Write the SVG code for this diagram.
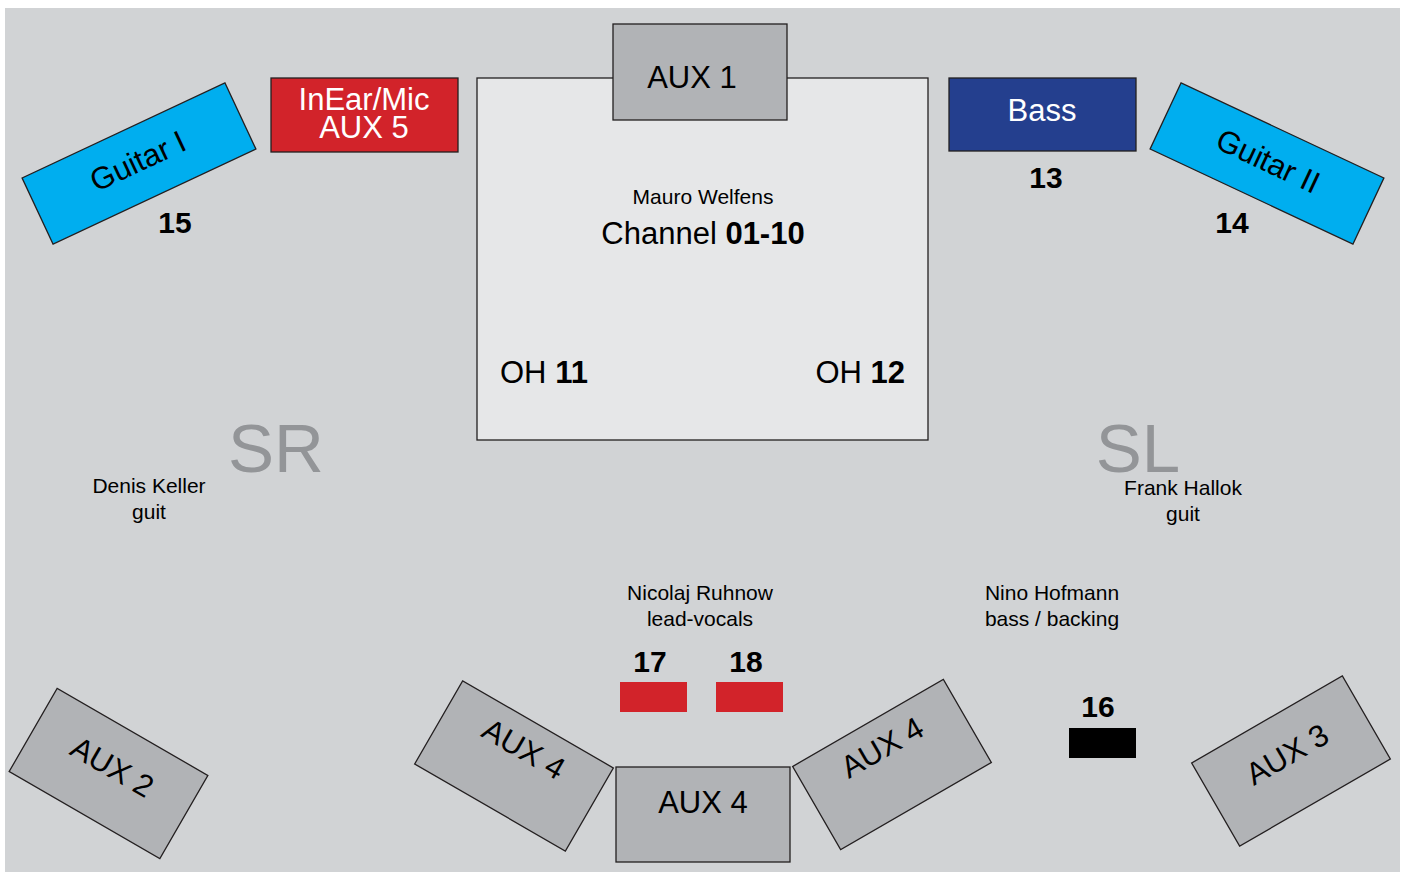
<svg xmlns="http://www.w3.org/2000/svg" width="1405" height="872" viewBox="0 0 1405 872">
<style>
text{font-family:"Liberation Sans",Arial,sans-serif;}
.box{stroke:#231f20;stroke-width:1.3;}
.gray{fill:#b1b3b6;}
.blue{fill:#00aeef;}
.red{fill:#d2232a;}
.lbl{font-size:31px;fill:#000;text-anchor:middle;}
.wlbl{font-size:31px;fill:#fff;text-anchor:middle;}
.num{font-size:30px;font-weight:bold;fill:#000;text-anchor:middle;}
.name{font-size:21px;fill:#000;text-anchor:middle;}
.side{font-size:69px;fill:#939598;text-anchor:middle;}
</style>
<rect x="0" y="0" width="1405" height="872" fill="#fff"/>
<rect x="5" y="8" width="1395" height="864" fill="#d1d3d5"/>

<g id="drums">
<rect class="box" x="477" y="78" width="451" height="362" fill="#e6e7e8"/>
<text class="name" x="703" y="204">Mauro Welfens</text>
<text class="lbl" x="703" y="244">Channel <tspan font-weight="bold">01-10</tspan></text>
<text x="500" y="383" font-size="31">OH <tspan font-weight="bold">11</tspan></text>
<text x="905" y="383" font-size="31" text-anchor="end">OH <tspan font-weight="bold">12</tspan></text>
</g>

<g id="aux1">
<rect class="box gray" x="613" y="24" width="174" height="96"/>
<text class="lbl" x="692" y="88">AUX 1</text>
</g>

<g id="inear">
<rect class="box red" x="271" y="78" width="187" height="74"/>
<text class="wlbl" x="364" y="110">InEar/Mic</text>
<text class="wlbl" x="364" y="138">AUX 5</text>
</g>

<g id="bass">
<rect class="box" x="949" y="78" width="187" height="73" fill="#243f8e"/>
<text class="wlbl" x="1042" y="121">Bass</text>
<text class="num" x="1046" y="188">13</text>
</g>

<g id="guitar1">
<g transform="translate(139,163.5) rotate(-25.1)">
<rect class="box blue" x="-112" y="-36.5" width="224" height="73"/>
<text class="lbl" x="0" y="8" font-size="30">Guitar I</text>
</g>
<text class="num" x="175" y="233">15</text>
</g>

<g id="guitar2">
<g transform="translate(1267,163.5) rotate(25.1)">
<rect class="box blue" x="-112" y="-36.5" width="224" height="73"/>
<text class="lbl" x="0" y="8" font-size="30">Guitar II</text>
</g>
<text class="num" x="1232" y="233">14</text>
</g>

<g id="sr">
<text class="side" x="276" y="472">SR</text>
<text class="name" x="149" y="493">Denis Keller</text>
<text class="name" x="149" y="519">guit</text>
</g>

<g id="sl">
<text class="side" x="1138" y="472">SL</text>
<text class="name" x="1183" y="495">Frank Hallok</text>
<text class="name" x="1183" y="521">guit</text>
</g>

<g id="vocals">
<text class="name" x="700" y="600">Nicolaj Ruhnow</text>
<text class="name" x="700" y="626">lead-vocals</text>
<text class="num" x="650" y="672">17</text>
<text class="num" x="746" y="672">18</text>
<rect class="red" x="620" y="682" width="67" height="30"/>
<rect class="red" x="716" y="682" width="67" height="30"/>
</g>

<g id="bassplayer">
<text class="name" x="1052" y="600">Nino Hofmann</text>
<text class="name" x="1052" y="626">bass / backing</text>
<text class="num" x="1098" y="717">16</text>
<rect x="1069" y="728" width="67" height="30" fill="#000"/>
</g>

<g id="aux2" transform="translate(108.5,773.5) rotate(30)">
<rect class="box gray" x="-87" y="-48" width="174" height="96"/>
<text class="lbl" x="0" y="3">AUX 2</text>
</g>

<g id="aux4left" transform="translate(514,766) rotate(30)">
<rect class="box gray" x="-87" y="-48" width="174" height="96"/>
<text class="lbl" x="0" y="-9">AUX 4</text>
</g>

<g id="aux4mid">
<rect class="box gray" x="616" y="767" width="174" height="95"/>
<text class="lbl" x="703" y="813">AUX 4</text>
</g>

<g id="aux4right" transform="translate(892,764.5) rotate(-30)">
<rect class="box gray" x="-87" y="-48" width="174" height="96"/>
<text class="lbl" x="0" y="-9">AUX 4</text>
</g>

<g id="aux3" transform="translate(1291,761) rotate(-30)">
<rect class="box gray" x="-87" y="-48" width="174" height="96"/>
<text class="lbl" x="0" y="3">AUX 3</text>
</g>

<g id="connectors"></g>
</svg>
